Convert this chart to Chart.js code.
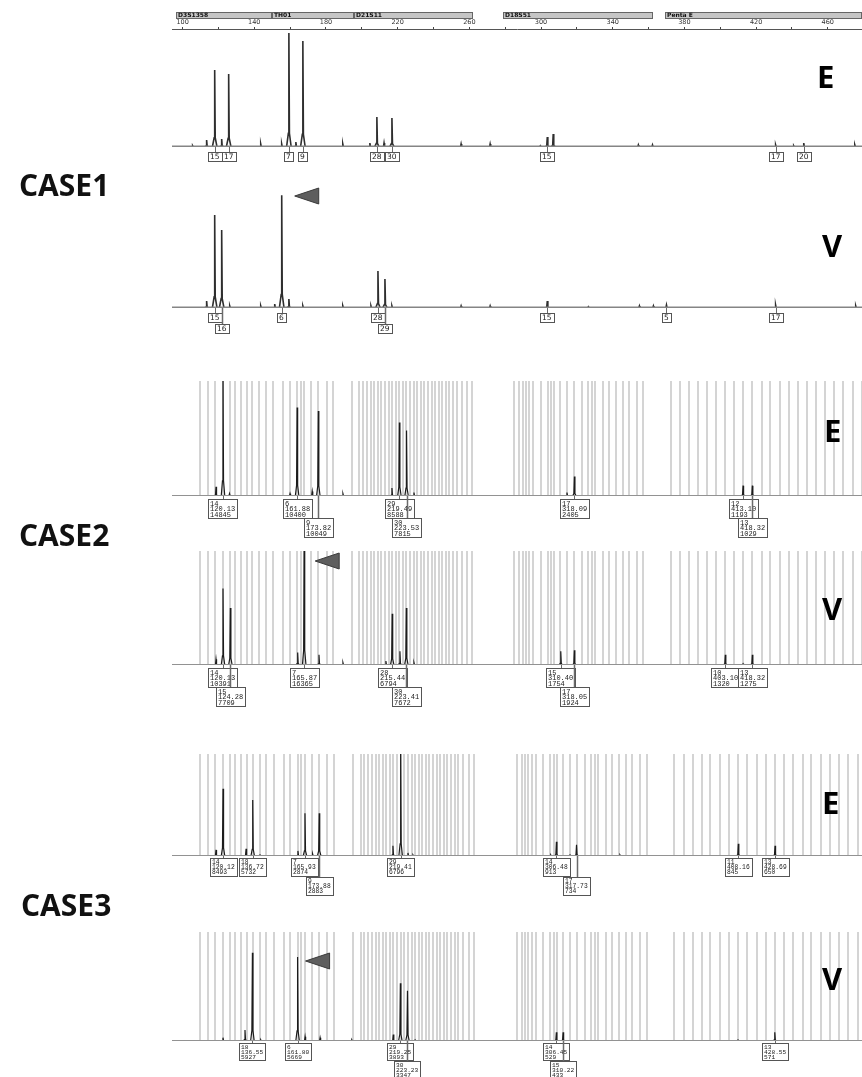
<!DOCTYPE html>
<html><head><meta charset="utf-8">
<script src="https://cdn.jsdelivr.net/npm/chart.js@4.4.1/dist/chart.umd.min.js"></script>
<style>
html,body{margin:0;padding:0;background:#fff;}
#wrap{position:relative;width:862px;height:1077px;overflow:hidden;background:#fff;}
canvas{position:absolute;left:0;}
.case{position:absolute;font-family:"Open Sans",sans-serif;font-weight:700;font-size:30px;color:#111;line-height:1;white-space:nowrap;}
.tag{position:absolute;font-family:"Open Sans",sans-serif;font-weight:700;font-size:31px;color:#000;line-height:1;}
</style></head><body><div id="wrap"></div>
<script>
// ---------- header ruler ----------
const headerTickValues = [100,120,140,160,180,200,220,240,260,280,300,320,340,360,380,400,420,440,460];
const headerTickLabels = ['100','','140','','180','','220','','260','','300','','340','','380','','420','','460'];
const locusNames = ['D3S1358','TH01','D21S11','D18S51','Penta E'];
const locusStart = [96.1,149.7,195.6,278.9,369.4];
const locusEnd   = [149.7,195.6,262.1,362.7,479.5];

// ---------- allele bins (bp) ----------
const binsD3S1358 = [107.2,111.8,115.6,120.1,124.2,127.0,130.3,133.4,136.7,140.6,144.4,148.5];
const binsTH01    = [154.1,157.6,161.9,163.9,165.9,169.9,173.8,178.5,181.9];
const binsD21S11  = [192.6,197.0,199.1,201.2,203.4,205.4,207.4,209.4,211.4,213.4,215.4,217.4,219.5,221.5,223.5,225.5,227.5,229.5,231.5,233.5,235.5,237.6,239.6,241.6,243.6,245.6,247.6,249.7,251.7,254.5,257.4,260.2];
const binsD18S51  = [284.2,287.0,288.9,290.8,292.6,294.9,299.2,303.0,304.9,306.8,310.0,314.1,318.1,322.2,325.9,327.8,329.7,334.0,337.8,341.5,345.3,349.0,353.2,356.9];
const binsPentaE  = [372.3,377.6,382.8,387.9,392.6,397.9,402.9,408.0,413.1,418.4,423.6,428.5,433.9,439.0,444.2,449.0,454.2,459.3,464.4,469.6,474.9,480.1];

// ---------- CASE1 E ----------
const c1eSizes   = [105.6,113.4,117.9,121.8,125.7,143.6,155.3,159.3,163.2,167.1,189.4,204.5,208.4,212.4,216.8,255.4,271.6,299.6,303.5,306.8,354.3,362.2,430.9,441.0,446.6,475.1];
const c1eHeights = [1,6.1,67.5,7,64,2.6,2.6,100,4.4,93,2.6,3.5,26.3,3.5,25.4,2.6,2.6,1,8.8,11.4,1.8,1.8,1.8,1,3.5,1.8];
const c1eAlleles = ['15','17','7','9','28','30','15','17','20'];
const c1eLabelAt = [117.9,125.7,159.3,167.1,208.4,216.8,303.5,430.9,446.6];
const c1eRows    = [0,0,0,0,0,0,0,0,0];

// ---------- CASE1 V ----------
const c1vSizes   = [113.4,117.9,121.8,126.3,143.6,151.4,155.3,159.3,167.1,189.4,205.1,209.0,212.9,216.8,255.4,271.6,303.5,326.4,354.9,362.7,370.0,430.9,475.6];
const c1vHeights = [6.1,81.6,68.4,1.8,1.8,3.5,99,7.9,1.8,1.8,1.8,32.5,25.4,1.8,1.8,1.8,6.1,1,1.8,1.8,2.6,2.6,1.8];
const c1vAlleles = ['15','16','6','28','29','15','5','17'];
const c1vLabelAt = [117.9,121.8,155.3,209.0,212.9,303.5,370.0,430.9];
const c1vRows    = [0,1,0,0,1,0,0,0];

// ---------- CASE2 E ----------
const c2eSizes   = [116.2,120.13,123.8,157.9,161.88,170.4,173.82,187.7,215.3,219.49,223.53,227.7,313.9,318.09,413.10,418.32];
const c2eHeights = [8,110,2,2,77,4,74,2,7,64,57,3,3,17,9,9];
const c2eAlleles = ['14','6','9','29','30','17','12','13'];
const c2eCalled  = [120.13,161.88,173.82,219.49,223.53,318.09,413.10,418.32];
const c2eRfu     = [14845,10400,10049,8588,7815,2405,1193,1029];
const c2eRows    = [0,0,1,0,1,0,0,1];

// ---------- CASE2 V ----------
const c2vSizes   = [116.2,120.13,124.28,162.2,165.87,174.2,187.7,211.9,215.44,219.8,223.41,227.7,310.40,318.05,403.10,413.1,418.32];
const c2vHeights = [5,67,50,11,110,9,2,3.5,45,12,50,2,12,13,9,1,9];
const c2vAlleles = ['14','15','7','28','30','15','17','10','13'];
const c2vCalled  = [120.13,124.28,165.87,215.44,223.41,310.40,318.05,403.10,418.32];
const c2vRfu     = [10391,7709,16365,6794,7672,1754,1924,1320,1275];
const c2vRows    = [0,1,0,0,1,0,1,0,0];

// ---------- CASE3 E ----------
const c3eSizes   = [116.2,120.12,133.0,136.72,140.8,162.0,165.93,170.2,173.88,215.1,219.41,223.5,226.3,303.3,306.48,314.1,317.73,342.0,408.16,428.69];
const c3eHeights = [6,66,7,55,1,5,42,2,42,10,100,3,1,1,14,1,11,1,12,10];
const c3eAlleles = ['14','18','7','9','29','14','17','11','13'];
const c3eCalled  = [120.12,136.72,165.93,173.88,219.41,306.48,317.73,408.16,428.69];
const c3eRfu     = [8493,5732,2874,2883,6796,913,734,845,650];
const c3eRows    = [0,0,0,1,0,0,1,0,0];

// ---------- CASE3 V ----------
const c3vSizes   = [120.1,132.4,136.55,141.2,161.80,166.0,174.4,192.1,215.3,219.25,223.23,227.5,306.45,310.22,408.0,428.55];
const c3vHeights = [3,10,81,1,77,4,3,1,6,53,46,1,8,8,1,8];
const c3vAlleles = ['18','6','29','30','14','15','13'];
const c3vCalled  = [136.55,161.80,219.25,223.23,306.45,310.22,428.55];
const c3vRfu     = [5927,5669,3893,3347,529,433,571];
const c3vRows    = [0,0,0,1,0,1,0];

const allBins = [].concat(binsD3S1358,binsTH01,binsD21S11,binsD18S51,binsPentaE);
const wrap = document.getElementById('wrap');
const PADTOP = 12;

function trace(sizes, heights, w){
  const d=[];
  sizes.forEach((s,i)=>{
    const h=heights[i];
    d.push({x:s-w,y:0},{x:s-0.3,y:h*0.12},{x:s,y:h},{x:s+0.3,y:h*0.12},{x:s+w,y:0},{x:s+w,y:null});
  });
  return d;
}

function epgPlugin(p){
  return {
    id:'epg',
    beforeDatasetsDraw(chart){
      if(!p.bins) return;
      const {ctx, chartArea:a, scales:{x}} = chart;
      ctx.save(); ctx.strokeStyle='#d4d4d4'; ctx.lineWidth=2;
      p.bins.forEach(b=>{
        const px=Math.round(x.getPixelForValue(b));
        if(px<a.left||px>a.right+1) return;
        ctx.beginPath(); ctx.moveTo(px,a.top); ctx.lineTo(px,a.bottom); ctx.stroke();
      });
      ctx.restore();
    },
    afterDatasetsDraw(chart){
      const {ctx, chartArea:a, scales:{x}} = chart;
      ctx.save();
      const L=p.labels;
      L.alleles.forEach((al,i)=>{
        const px=x.getPixelForValue(L.at[i]);
        const lines = p.full ? [al, L.at[i].toFixed(2), String(L.rfu[i])] : [al];
        ctx.font = p.full ? (p.fs+'px "Liberation Mono"') : '7.5px "DejaVu Sans"';
        let w=0; lines.forEach(t=>{w=Math.max(w,ctx.measureText(t).width);});
        w = Math.round(w + 4);
        const lh = p.full ? p.lh : 7;
        const h = Math.round(lines.length*lh + 2);
        const top = Math.round(a.bottom + (L.rows[i]===0 ? p.row0 : p.row1));
        const left = Math.round(px - w/2);
        ctx.strokeStyle='#6a6a6a'; ctx.lineWidth = L.rows[i]===0 ? 1 : 1.5;
        ctx.beginPath(); ctx.moveTo(Math.round(px)+0.5,a.bottom); ctx.lineTo(Math.round(px)+0.5,top); ctx.stroke();
        ctx.fillStyle='#fff'; ctx.fillRect(left,top,w,h);
        ctx.strokeStyle='#555'; ctx.lineWidth=1;
        ctx.strokeRect(left+0.5,top+0.5,w,h);
        ctx.fillStyle='#1a1a1a'; ctx.textBaseline='top'; ctx.textAlign='left';
        lines.forEach((t,k)=>{ ctx.fillText(t,left+2,top+1.2+k*lh); });
      });
      if(p.arrow){
        const px=x.getPixelForValue(p.arrow.bp)+p.arrow.dx, py=a.top+p.arrow.dy;
        ctx.fillStyle='#5e5e5e'; ctx.strokeStyle='#3a3a3a'; ctx.lineWidth=1;
        ctx.beginPath(); ctx.moveTo(px,py); ctx.lineTo(px+24,py-8); ctx.lineTo(px+24,py+8); ctx.closePath(); ctx.fill(); ctx.stroke();
      }
      ctx.restore();
    }
  };
}

function makePanel(p){
  const cv=document.createElement('canvas');
  cv.width=862; cv.height=p.base-p.top+p.pad+PADTOP; cv.style.top=(p.top-PADTOP)+'px';
  wrap.appendChild(cv);
  new Chart(cv,{type:'line',
    data:{datasets:[
      {data:[{x:p.xmin,y:0},{x:p.xmax,y:0}],borderColor:p.baseColor,borderWidth:p.baseWidth,pointRadius:0},
      {data:trace(p.sizes,p.heights,p.pw),borderColor:p.peakColor,borderWidth:p.peakWidth,pointRadius:0,spanGaps:false}
    ]},
    options:{responsive:false,animation:false,events:[],
      layout:{padding:{left:172,right:0,top:PADTOP,bottom:p.pad}},
      scales:{x:{type:'linear',min:p.xmin,max:p.xmax,display:false},y:{min:0,max:100,display:false}},
      elements:{line:{tension:0}},
      plugins:{legend:{display:false},tooltip:{enabled:false}}},
    plugins:[epgPlugin(p)]});
  const t=document.createElement('div'); t.className='tag'; t.textContent=p.tag;
  t.style.left=p.tagX+'px'; t.style.top=p.tagY+'px'; wrap.appendChild(t);
}

// header ruler chart
(function(){
  const cv=document.createElement('canvas'); cv.width=862; cv.height=40; cv.style.top='0px'; wrap.appendChild(cv);
  const locusPlugin={id:'locus',afterDraw(chart){
    const {ctx, scales:{x}}=chart; ctx.save();
    locusNames.forEach((n,i)=>{
      const l=Math.round(x.getPixelForValue(locusStart[i])), r=Math.min(862,Math.round(x.getPixelForValue(locusEnd[i])));
      ctx.fillStyle='#c6c6c6'; ctx.fillRect(l,12,r-l,6);
      ctx.strokeStyle='#666'; ctx.lineWidth=1; ctx.strokeRect(l+0.5,12.5,r-l-1,6);
      ctx.fillStyle='#111'; ctx.font='bold 6px "DejaVu Sans"'; ctx.textBaseline='middle'; ctx.textAlign='left';
      ctx.fillText(n,l+2,15.5);
    });
    ctx.restore();
  }};
  new Chart(cv,{type:'line',data:{datasets:[{data:[]}]},
    options:{responsive:false,animation:false,events:[],
      layout:{padding:{left:172,right:0,top:18,bottom:0}},
      scales:{x:{type:'linear',position:'top',min:94.08,max:479.1,
        afterBuildTicks:s=>{s.ticks=headerTickValues.map(v=>({value:v}));},
        ticks:{callback:(v,i)=>headerTickLabels[i],font:{size:6.5,family:'DejaVu Sans'},color:'#333',padding:1,maxRotation:0,autoSkip:false},
        grid:{drawOnChartArea:false,drawTicks:true,tickLength:2,color:'#444'},
        border:{display:true,color:'#555',width:1}},
        y:{display:false,min:0,max:1}},
      plugins:{legend:{display:false},tooltip:{enabled:false}}},
    plugins:[locusPlugin]});
})();

const C1MIN=94.08, C1MAX=479.1, C2MIN=91.4, C2MAX=480.1, C3MIN=91.6, C3MAX=477.3;
makePanel({top:33,base:147,pad:20,xmin:C1MIN,xmax:C1MAX,sizes:c1eSizes,heights:c1eHeights,
  labels:{alleles:c1eAlleles,at:c1eLabelAt,rows:c1eRows},full:false,row0:5,row1:16,pw:1.3,peakColor:'#2e2e2e',peakWidth:1.6,
  baseColor:'#858585',baseWidth:2.8,tag:'E',tagX:817,tagY:61});
makePanel({top:194,base:308,pad:30,xmin:C1MIN,xmax:C1MAX,sizes:c1vSizes,heights:c1vHeights,
  labels:{alleles:c1vAlleles,at:c1vLabelAt,rows:c1vRows},full:false,row0:5,row1:16,pw:1.3,peakColor:'#2e2e2e',peakWidth:1.6,
  arrow:{bp:155.3,dx:13,dy:2},baseColor:'#858585',baseWidth:2.8,tag:'V',tagX:822,tagY:230});
makePanel({top:381,base:496,pad:45,xmin:C2MIN,xmax:C2MAX,sizes:c2eSizes,heights:c2eHeights,bins:allBins,
  labels:{alleles:c2eAlleles,at:c2eCalled,rfu:c2eRfu,rows:c2eRows},full:true,fs:7,lh:5.6,row0:3,row1:22,pw:1.0,peakColor:'#1c1c1c',peakWidth:1.2,
  baseColor:'#929292',baseWidth:2.2,tag:'E',tagX:824,tagY:415});
makePanel({top:551,base:665,pad:45,xmin:C2MIN,xmax:C2MAX,sizes:c2vSizes,heights:c2vHeights,bins:allBins,
  labels:{alleles:c2vAlleles,at:c2vCalled,rfu:c2vRfu,rows:c2vRows},full:true,fs:7,lh:5.6,row0:3,row1:22,pw:1.0,peakColor:'#1c1c1c',peakWidth:1.2,
  arrow:{bp:165.87,dx:11,dy:10},baseColor:'#929292',baseWidth:2.2,tag:'V',tagX:822,tagY:593});
makePanel({top:754,base:856,pad:40,xmin:C3MIN,xmax:C3MAX,sizes:c3eSizes,heights:c3eHeights,bins:allBins,
  labels:{alleles:c3eAlleles,at:c3eCalled,rfu:c3eRfu,rows:c3eRows},full:true,fs:6.3,lh:5.2,row0:2,row1:21,pw:1.0,peakColor:'#1c1c1c',peakWidth:1.2,
  baseColor:'#929292',baseWidth:2.2,tag:'E',tagX:822,tagY:787});
makePanel({top:932,base:1041,pad:36,xmin:C3MIN,xmax:C3MAX,sizes:c3vSizes,heights:c3vHeights,bins:allBins,
  labels:{alleles:c3vAlleles,at:c3vCalled,rfu:c3vRfu,rows:c3vRows},full:true,fs:6.2,lh:5.0,row0:2,row1:20,pw:1.0,peakColor:'#1c1c1c',peakWidth:1.2,
  arrow:{bp:161.80,dx:8,dy:29},baseColor:'#929292',baseWidth:2.2,tag:'V',tagX:822,tagY:963});

[['CASE1',19,170],['CASE2',19,520],['CASE3',21,890]].forEach(([t,l,tp])=>{
  const d=document.createElement('div'); d.className='case'; d.textContent=t; d.style.left=l+'px'; d.style.top=tp+'px'; wrap.appendChild(d);
});
</script></body></html>
